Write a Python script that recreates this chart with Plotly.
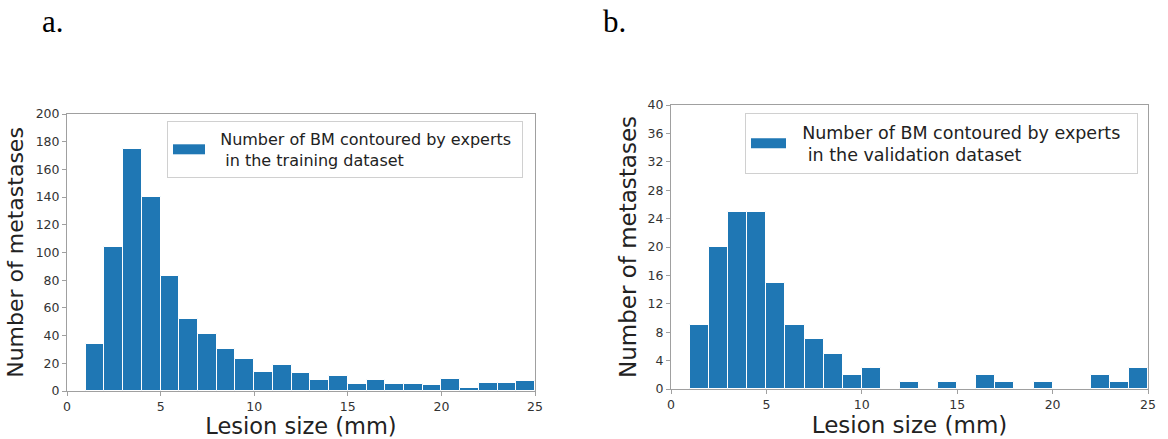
import plotly.graph_objects as go

# ---- data ----
bin_left = [1, 2, 3, 4, 5, 6, 7, 8, 9, 10, 11, 12, 13, 14, 15, 16, 17, 18, 19, 20, 21, 22, 23, 24]
train_counts = [34, 104, 175, 140, 83, 52, 41, 30, 23, 14, 19, 13, 8, 11, 5, 8, 5, 5, 4, 9, 2, 6, 6, 7]
valid_counts = [9, 20, 25, 25, 15, 9, 7, 5, 2, 3, 0, 1, 0, 1, 0, 2, 1, 0, 1, 0, 0, 2, 1, 3]
x_ticks = [0, 5, 10, 15, 20, 25]
NB = "\u00a0"
train_label = NB * 2 + "Number of BM contoured by experts" + NB + "<br>" + NB * 3 + "in the training dataset"
valid_label = NB * 2 + "Number of BM contoured by experts" + NB * 2 + "<br>" + NB * 3 + "in the validation dataset"
x_title = "Lesion size (mm)"
y_title = "Number of metastases"
panel_labels = ["a.", "b."]

# full-page figure (body margin removed by post_script)
W, H = 1168, 439
BLUE = "#1f77b4"
FONT = "DejaVu Sans"

def px_x(v):
    return v / W

def px_y(v):
    return (H - v) / H

fig = go.Figure()

fig.add_trace(go.Bar(x=bin_left, y=train_counts, width=1, offset=0,
                     marker=dict(color=BLUE, line=dict(color="white", width=1)),
                     xaxis="x", yaxis="y", showlegend=False))
fig.add_trace(go.Scatter(x=[None], y=[None], mode="lines", name=train_label,
                         line=dict(color=BLUE, width=10), xaxis="x", yaxis="y",
                         legend="legend"))
fig.add_trace(go.Bar(x=bin_left, y=valid_counts, width=1, offset=0,
                     marker=dict(color=BLUE, line=dict(color="white", width=1)),
                     xaxis="x2", yaxis="y2", showlegend=False))
fig.add_trace(go.Scatter(x=[None], y=[None], mode="lines", name=valid_label,
                         line=dict(color=BLUE, width=11), xaxis="x2", yaxis="y2",
                         legend="legend2"))

axis_common = dict(showline=True, mirror=True, linecolor="#a0a0a0", linewidth=1,
                   ticks="outside", ticklen=4, tickcolor="#a0a0a0",
                   showgrid=False, zeroline=False, automargin=False,
                   tickfont=dict(family=FONT, size=12.5, color="#333333"))

legend_common = dict(xanchor="left", yanchor="top", xref="paper", yref="paper",
                     bgcolor="white", bordercolor="#d0d0d0", borderwidth=1)

fig.update_layout(
    template="plotly",
    width=W, height=H, autosize=False,
    margin=dict(l=0, r=0, t=0, b=0, pad=0),
    paper_bgcolor="white", plot_bgcolor="white",
    font=dict(family=FONT, color="#222222"),
    xaxis=dict(domain=[px_x(67), px_x(535)], range=[0, 25], tickvals=x_ticks,
               title=dict(text=x_title, font=dict(family=FONT, size=22.5, color="#222222"), standoff=4),
               anchor="y", **axis_common),
    yaxis=dict(domain=[px_y(391), px_y(114)], range=[0, 200], dtick=20,
               title=dict(text=y_title, font=dict(family=FONT, size=22, color="#222222"), standoff=5),
               anchor="x", **axis_common),
    xaxis2=dict(domain=[px_x(671), px_x(1148)], range=[0, 25], tickvals=x_ticks,
                title=dict(text=x_title, font=dict(family=FONT, size=23, color="#222222"), standoff=4),
                anchor="y2", **axis_common),
    yaxis2=dict(domain=[px_y(389), px_y(105)], range=[0, 40], dtick=4,
                title=dict(text=y_title, font=dict(family=FONT, size=23, color="#222222"), standoff=4),
                anchor="x2", **axis_common),
    legend=dict(x=px_x(167), y=px_y(121), itemwidth=32,
                font=dict(family=FONT, size=16, color="#222222"), **legend_common),
    legend2=dict(x=px_x(745), y=px_y(113), itemwidth=35,
                 font=dict(family=FONT, size=17.5, color="#222222"), **legend_common),
    bargap=0,
)

fig.add_annotation(text=panel_labels[0], x=px_x(53), y=px_y(22), xref="paper", yref="paper",
                   xanchor="center", yanchor="middle", showarrow=False,
                   font=dict(family="Liberation Serif", size=31, color="black"))
fig.add_annotation(text=panel_labels[1], x=px_x(614), y=px_y(22), xref="paper", yref="paper",
                   xanchor="center", yanchor="middle", showarrow=False,
                   font=dict(family="Liberation Serif", size=31, color="black"))

fig.write_html("out.html",
               config={"displayModeBar": False},
               post_script="document.body.style.margin='0';document.body.style.overflow='hidden';")
